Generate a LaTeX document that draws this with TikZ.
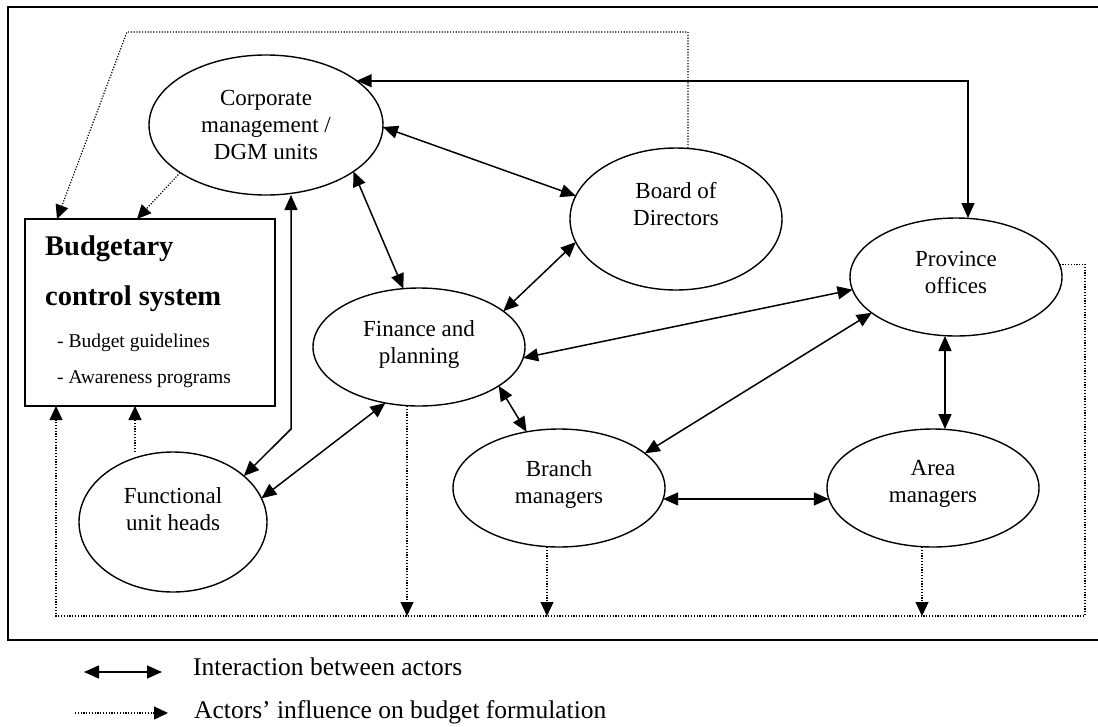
\documentclass[tikz,border=0pt]{standalone}
\usepackage{fontspec}
\setmainfont{Liberation Serif}
\usetikzlibrary{shapes.geometric,arrows.meta}
\begin{document}
\begin{tikzpicture}[x=1pt,y=-1pt,
  ell/.style={ellipse,draw,line width=1.4pt,inner sep=0pt,outer sep=0pt},
  boxst/.style={rectangle,draw,line width=1.4pt,inner sep=0pt,outer sep=0pt},
  lbl/.style={align=center,font=\fontsize{23}{27}\selectfont,inner sep=0pt},
  boxhead/.style={anchor=base west,inner sep=0pt,font=\fontsize{28.5}{30}\selectfont\bfseries},
  boxitem/.style={anchor=base west,inner sep=0pt,font=\fontsize{19.5}{22}\selectfont},
  legtext/.style={anchor=base west,inner sep=0pt,font=\fontsize{25.5}{28}\selectfont},
  inter/.style={line width=1.5pt,{Triangle[length=15pt,width=13pt]}-{Triangle[length=15pt,width=13pt]}},
  infl/.style={line width=1.2pt,dash pattern=on 1.2pt off 1.6pt,-{Triangle[length=14pt,width=13pt]}},
  frame/.style={line width=2pt}
]
\useasboundingbox (0,0) rectangle (1098,726);
\draw[frame] (8,7) rectangle (1106,640);

% budgetary box
\node[boxst,minimum width=250pt,minimum height=187pt] (box) at (150,312.5) {};
\node[boxhead] (bt1) at (45,255) {Budgetary};
\node[boxhead] (bt2) at (45,305) {control system};
\node[boxitem] (bi1) at (57,347) {- Budget guidelines};
\node[boxitem] (bi2) at (57,383) {- Awareness programs};

% actors
\node[ell,minimum width=234pt,minimum height=140pt] (corp) at (266,125) {};
\node[lbl] (corpl) at (266,125) {Corporate\\management /\\DGM units};
\node[ell,minimum width=212pt,minimum height=142pt] (board) at (676,219) {};
\node[lbl] (boardl) at (676,204) {Board of\\Directors};
\node[ell,minimum width=212pt,minimum height=118pt] (prov) at (956,277) {};
\node[lbl] (provl) at (956,272) {Province\\offices};
\node[ell,minimum width=212pt,minimum height=118pt] (fin) at (419,347) {};
\node[lbl] (finl) at (419,344) {Finance and\\planning};
\node[ell,minimum width=212pt,minimum height=118pt] (branch) at (559,488) {};
\node[lbl] (branchl) at (559,484) {Branch\\managers};
\node[ell,minimum width=212pt,minimum height=118pt] (area) at (933,488) {};
\node[lbl] (areal) at (933,484) {Area\\managers};
\node[ell,minimum width=188pt,minimum height=140pt] (func) at (173,522) {};
\node[lbl] (funcl) at (173,509) {Functional\\unit heads};

% helper coordinates
\coordinate (tr) at (688,32);
\coordinate (tl) at (127,32);
\coordinate (br) at (1085,616);
\coordinate (bl) at (56,616);
\coordinate (cb) at ([xshift=25pt]corp.south);
\coordinate (cfb) at (291,429);
\coordinate (pt) at ([xshift=12pt]prov.north);
\coordinate (pb) at ([xshift=-11pt]prov.south);
\coordinate (at) at ([xshift=12pt]area.north);
\coordinate (fd) at ([xshift=-12pt]fin.south);
\coordinate (bd) at ([xshift=-12pt]branch.south);
\coordinate (ad) at ([xshift=-11pt]area.south);

% interactions
\draw[inter] (corp.26) -| (pt);
\draw[inter] (corp.359) -- (board.167);
\draw[inter] (corp.332) -- (fin.105);
\draw[inter] (board.193) -- (fin.23);
\draw[inter] (fin.354) -- (prov.187);
\draw[inter] (prov.203) -- (branch.22);
\draw[inter] (fin.334) -- (branch.120);
\draw[inter] (branch.354) -- (area.186);
\draw[inter] (pb) -- (at);
\draw[inter] (cb) -- (cfb) -- (func.33);
\draw[inter] (func.15) -- (fin.239);

% influences
\draw[infl] ([xshift=12pt]board.north) -- (tr) -- (tl) -- ([xshift=-93pt]box.north);
\draw[infl] (corp.209) -- ([xshift=-13pt]box.north);
\draw[infl] ([xshift=-38pt]func.north) -- ([xshift=-15pt]box.south);
\draw[infl] (prov.7) -- (prov.7 -| br) -- (br) -- (bl) -- (bl |- box.south);
\draw[infl] (fd) -- (fd |- bl);
\draw[infl] (bd) -- (bd |- bl);
\draw[infl] (ad) -- (ad |- bl);

% legend
\coordinate (l1a) at (84,672);
\coordinate (l1b) at (162,672);
\draw[inter] (l1a) -- (l1b);
\node[legtext] (lt1) at (193,675) {Interaction between actors};
\coordinate (l2a) at (75,713);
\coordinate (l2b) at (168,713);
\draw[infl] (l2a) -- (l2b);
\node[legtext] (lt2) at (194,718) {Actors’ influence on budget formulation};
\end{tikzpicture}
\end{document}
